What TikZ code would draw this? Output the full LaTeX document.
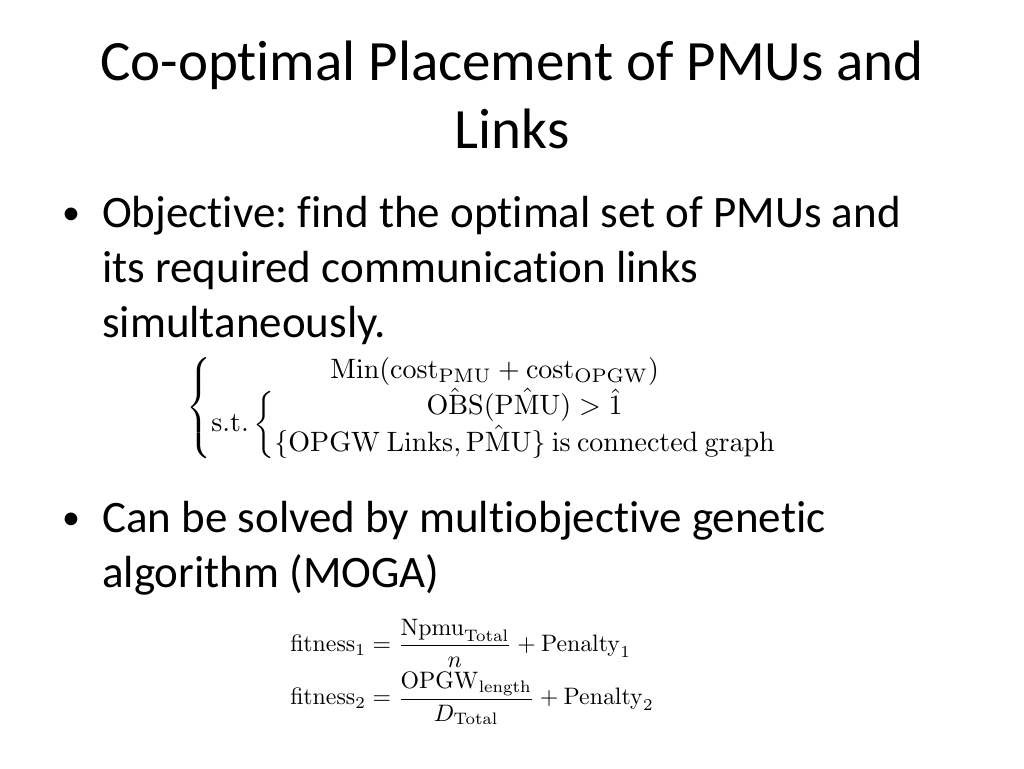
\documentclass[tikz,border=0pt]{standalone}
\usepackage{amsmath}
\usepackage[no-math]{fontspec}
\usepackage{graphicx}
\setmainfont{Carlito}[Ligatures={NoCommon}]
\frenchspacing
\tikzset{
  titletext/.style={anchor=base,inner sep=0pt,font=\fontsize{57}{67}\selectfont},
  bodytext/.style={anchor=base west,inner sep=0pt,font=\fontsize{45}{54}\selectfont},
  bulletmark/.style={anchor=base west,inner sep=0pt,font=\fontsize{36}{54}\selectfont},
  formula/.style={inner sep=0pt}
}
\begin{document}
\begin{tikzpicture}[x=1pt,y=-1pt]
\path[fill=white] (0,0) rectangle (1024,768);
\useasboundingbox (0,0) rectangle (1024,768);
% title
\node[titletext] (t1) at (512,81) {Co-optimal Placement of PMUs and};
\node[titletext] (t2) at (512,148) {Links};
% bullet 1
\node[bulletmark] (m1) at (62,224) {•};
\node[bodytext] (b1a) at (102,227) {Objective: find the optimal set of PMUs and};
\node[bodytext] (b1b) at (102,282) {its required communication links};
\node[bodytext] (b1c) at (102,337) {simultaneously.};
% formula 1
\node[formula] (f1) at (484,408) {\scalebox{2.8}{$\displaystyle
\left\{\begin{array}{@{}c@{}}
\mathrm{Min}(\mathrm{cost}_{\mathrm{PMU}}+\mathrm{cost}_{\mathrm{OPGW}})\\
\mathrm{s.t.}\left\{\begin{array}{@{}c@{}}
\hat{\mathrm{OBS}}(\hat{\mathrm{PMU}})>\hat{1}\\
\{\mathrm{OPGW\ Links},\hat{\mathrm{PMU}}\}\ \mathrm{is\ connected\ graph}
\end{array}\right.
\end{array}\right.$}};
% bullet 2
\node[bulletmark] (m2) at (62,529) {•};
\node[bodytext] (b2a) at (102,532) {Can be solved by multiobjective genetic};
\node[bodytext] (b2b) at (102,587) {algorithm (MOGA)};
% formula 2
\node[formula] (f2) at (472,672) {\scalebox{2.38}{$\displaystyle
\begin{aligned}
\mathrm{fitness}_1&=\frac{\mathrm{Npmu}_{\mathrm{Total}}}{n}+\mathrm{Penalty}_1\\[-2pt]
\mathrm{fitness}_2&=\frac{\mathrm{OPGW}_{\mathrm{length}}}{D_{\mathrm{Total}}}+\mathrm{Penalty}_2
\end{aligned}$}};
\end{tikzpicture}
\end{document}
